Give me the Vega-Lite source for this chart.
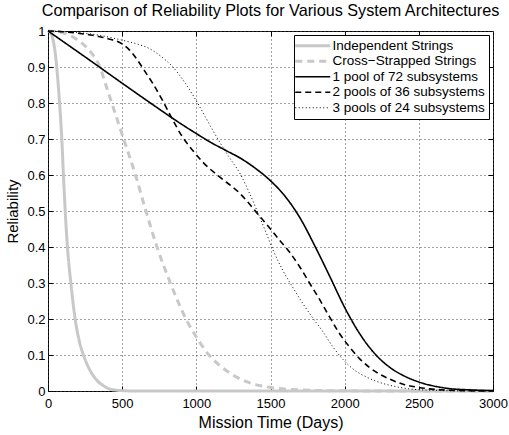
{
  "$schema": "https://vega.github.io/schema/vega-lite/v6.json",
  "width": 445,
  "height": 360,
  "autosize": {"type": "none"},
  "padding": {"left": 48, "top": 31, "right": 16, "bottom": 44},
  "background": "white",
  "title": {"text": "Comparison of Reliability Plots for Various System Architectures", "font": "Liberation Sans", "fontSize": 16.2, "fontWeight": "normal", "color": "black", "baseline": "alphabetic", "offset": 11, "dy": 18},
  "config": {
    "view": {"stroke": "black", "strokeWidth": 1},
    "axis": {"labelFont": "Liberation Sans", "titleFont": "Liberation Sans", "labelColor": "black", "titleColor": "black", "titleFontWeight": "normal", "domain": false, "tickColor": "black", "gridColor": "#444444", "gridDash": [1, 3], "gridOpacity": 1, "gridWidth": 1, "labelFlush": false},
    "legend": {"labelFont": "Liberation Sans", "labelColor": "black"}
  },
  "data": {"values": [
    {"series": "Independent Strings", "t": 0, "R": 1},
    {"series": "Independent Strings", "t": 15, "R": 0.996},
    {"series": "Independent Strings", "t": 30, "R": 0.982},
    {"series": "Independent Strings", "t": 45, "R": 0.95},
    {"series": "Independent Strings", "t": 59, "R": 0.9},
    {"series": "Independent Strings", "t": 70, "R": 0.845},
    {"series": "Independent Strings", "t": 78, "R": 0.8},
    {"series": "Independent Strings", "t": 93, "R": 0.7},
    {"series": "Independent Strings", "t": 104, "R": 0.6},
    {"series": "Independent Strings", "t": 116, "R": 0.5},
    {"series": "Independent Strings", "t": 131, "R": 0.4},
    {"series": "Independent Strings", "t": 154, "R": 0.3},
    {"series": "Independent Strings", "t": 183, "R": 0.2},
    {"series": "Independent Strings", "t": 210, "R": 0.14},
    {"series": "Independent Strings", "t": 239, "R": 0.1},
    {"series": "Independent Strings", "t": 280, "R": 0.06},
    {"series": "Independent Strings", "t": 329, "R": 0.03},
    {"series": "Independent Strings", "t": 380, "R": 0.013},
    {"series": "Independent Strings", "t": 420, "R": 0.005},
    {"series": "Independent Strings", "t": 500, "R": 0.001},
    {"series": "Independent Strings", "t": 600, "R": 0},
    {"series": "Independent Strings", "t": 3000, "R": 0},
    {"series": "Cross−Strapped Strings", "t": 0, "R": 1},
    {"series": "Cross−Strapped Strings", "t": 100, "R": 0.995},
    {"series": "Cross−Strapped Strings", "t": 200, "R": 0.975},
    {"series": "Cross−Strapped Strings", "t": 300, "R": 0.935},
    {"series": "Cross−Strapped Strings", "t": 350, "R": 0.9},
    {"series": "Cross−Strapped Strings", "t": 390, "R": 0.85},
    {"series": "Cross−Strapped Strings", "t": 430, "R": 0.8},
    {"series": "Cross−Strapped Strings", "t": 510, "R": 0.7},
    {"series": "Cross−Strapped Strings", "t": 590, "R": 0.6},
    {"series": "Cross−Strapped Strings", "t": 660, "R": 0.5},
    {"series": "Cross−Strapped Strings", "t": 735, "R": 0.4},
    {"series": "Cross−Strapped Strings", "t": 825, "R": 0.3},
    {"series": "Cross−Strapped Strings", "t": 930, "R": 0.2},
    {"series": "Cross−Strapped Strings", "t": 1000, "R": 0.15},
    {"series": "Cross−Strapped Strings", "t": 1085, "R": 0.1},
    {"series": "Cross−Strapped Strings", "t": 1160, "R": 0.07},
    {"series": "Cross−Strapped Strings", "t": 1245, "R": 0.045},
    {"series": "Cross−Strapped Strings", "t": 1380, "R": 0.02},
    {"series": "Cross−Strapped Strings", "t": 1500, "R": 0.01},
    {"series": "Cross−Strapped Strings", "t": 1700, "R": 0.003},
    {"series": "Cross−Strapped Strings", "t": 2000, "R": 0.0005},
    {"series": "Cross−Strapped Strings", "t": 2400, "R": 0},
    {"series": "Cross−Strapped Strings", "t": 3000, "R": 0},
    {"series": "1 pool of 72 subsystems", "t": 0, "R": 1},
    {"series": "1 pool of 72 subsystems", "t": 250, "R": 0.928},
    {"series": "1 pool of 72 subsystems", "t": 500, "R": 0.855},
    {"series": "1 pool of 72 subsystems", "t": 750, "R": 0.783},
    {"series": "1 pool of 72 subsystems", "t": 842, "R": 0.757},
    {"series": "1 pool of 72 subsystems", "t": 1000, "R": 0.715},
    {"series": "1 pool of 72 subsystems", "t": 1100, "R": 0.69},
    {"series": "1 pool of 72 subsystems", "t": 1200, "R": 0.668},
    {"series": "1 pool of 72 subsystems", "t": 1300, "R": 0.646},
    {"series": "1 pool of 72 subsystems", "t": 1400, "R": 0.618},
    {"series": "1 pool of 72 subsystems", "t": 1500, "R": 0.584},
    {"series": "1 pool of 72 subsystems", "t": 1600, "R": 0.54},
    {"series": "1 pool of 72 subsystems", "t": 1700, "R": 0.48},
    {"series": "1 pool of 72 subsystems", "t": 1800, "R": 0.402},
    {"series": "1 pool of 72 subsystems", "t": 1900, "R": 0.318},
    {"series": "1 pool of 72 subsystems", "t": 2000, "R": 0.232},
    {"series": "1 pool of 72 subsystems", "t": 2100, "R": 0.16},
    {"series": "1 pool of 72 subsystems", "t": 2200, "R": 0.105},
    {"series": "1 pool of 72 subsystems", "t": 2300, "R": 0.067},
    {"series": "1 pool of 72 subsystems", "t": 2400, "R": 0.042},
    {"series": "1 pool of 72 subsystems", "t": 2500, "R": 0.025},
    {"series": "1 pool of 72 subsystems", "t": 2600, "R": 0.014},
    {"series": "1 pool of 72 subsystems", "t": 2700, "R": 0.007},
    {"series": "1 pool of 72 subsystems", "t": 2850, "R": 0.003},
    {"series": "1 pool of 72 subsystems", "t": 3000, "R": 0.001},
    {"series": "2 pools of 36 subsystems", "t": 0, "R": 1},
    {"series": "2 pools of 36 subsystems", "t": 100, "R": 0.998},
    {"series": "2 pools of 36 subsystems", "t": 200, "R": 0.994},
    {"series": "2 pools of 36 subsystems", "t": 300, "R": 0.988},
    {"series": "2 pools of 36 subsystems", "t": 400, "R": 0.979},
    {"series": "2 pools of 36 subsystems", "t": 500, "R": 0.964},
    {"series": "2 pools of 36 subsystems", "t": 550, "R": 0.947},
    {"series": "2 pools of 36 subsystems", "t": 600, "R": 0.921},
    {"series": "2 pools of 36 subsystems", "t": 650, "R": 0.89},
    {"series": "2 pools of 36 subsystems", "t": 707, "R": 0.854},
    {"series": "2 pools of 36 subsystems", "t": 775, "R": 0.805},
    {"series": "2 pools of 36 subsystems", "t": 842, "R": 0.752},
    {"series": "2 pools of 36 subsystems", "t": 900, "R": 0.71},
    {"series": "2 pools of 36 subsystems", "t": 976, "R": 0.668},
    {"series": "2 pools of 36 subsystems", "t": 1050, "R": 0.633},
    {"series": "2 pools of 36 subsystems", "t": 1150, "R": 0.597},
    {"series": "2 pools of 36 subsystems", "t": 1291, "R": 0.55},
    {"series": "2 pools of 36 subsystems", "t": 1426, "R": 0.486},
    {"series": "2 pools of 36 subsystems", "t": 1500, "R": 0.45},
    {"series": "2 pools of 36 subsystems", "t": 1561, "R": 0.419},
    {"series": "2 pools of 36 subsystems", "t": 1628, "R": 0.386},
    {"series": "2 pools of 36 subsystems", "t": 1700, "R": 0.343},
    {"series": "2 pools of 36 subsystems", "t": 1763, "R": 0.3},
    {"series": "2 pools of 36 subsystems", "t": 1830, "R": 0.255},
    {"series": "2 pools of 36 subsystems", "t": 1898, "R": 0.206},
    {"series": "2 pools of 36 subsystems", "t": 1960, "R": 0.163},
    {"series": "2 pools of 36 subsystems", "t": 2033, "R": 0.122},
    {"series": "2 pools of 36 subsystems", "t": 2100, "R": 0.09},
    {"series": "2 pools of 36 subsystems", "t": 2168, "R": 0.065},
    {"series": "2 pools of 36 subsystems", "t": 2235, "R": 0.047},
    {"series": "2 pools of 36 subsystems", "t": 2303, "R": 0.033},
    {"series": "2 pools of 36 subsystems", "t": 2400, "R": 0.018},
    {"series": "2 pools of 36 subsystems", "t": 2483, "R": 0.011},
    {"series": "2 pools of 36 subsystems", "t": 2570, "R": 0.006},
    {"series": "2 pools of 36 subsystems", "t": 2660, "R": 0.003},
    {"series": "2 pools of 36 subsystems", "t": 2800, "R": 0.001},
    {"series": "2 pools of 36 subsystems", "t": 3000, "R": 0},
    {"series": "3 pools of 24 subsystems", "t": 0, "R": 1},
    {"series": "3 pools of 24 subsystems", "t": 200, "R": 0.996},
    {"series": "3 pools of 24 subsystems", "t": 350, "R": 0.988},
    {"series": "3 pools of 24 subsystems", "t": 505, "R": 0.974},
    {"series": "3 pools of 24 subsystems", "t": 600, "R": 0.964},
    {"series": "3 pools of 24 subsystems", "t": 684, "R": 0.951},
    {"series": "3 pools of 24 subsystems", "t": 760, "R": 0.93},
    {"series": "3 pools of 24 subsystems", "t": 842, "R": 0.9},
    {"series": "3 pools of 24 subsystems", "t": 920, "R": 0.858},
    {"series": "3 pools of 24 subsystems", "t": 1000, "R": 0.806},
    {"series": "3 pools of 24 subsystems", "t": 1060, "R": 0.762},
    {"series": "3 pools of 24 subsystems", "t": 1111, "R": 0.724},
    {"series": "3 pools of 24 subsystems", "t": 1170, "R": 0.683},
    {"series": "3 pools of 24 subsystems", "t": 1224, "R": 0.648},
    {"series": "3 pools of 24 subsystems", "t": 1300, "R": 0.6},
    {"series": "3 pools of 24 subsystems", "t": 1360, "R": 0.548},
    {"series": "3 pools of 24 subsystems", "t": 1420, "R": 0.49},
    {"series": "3 pools of 24 subsystems", "t": 1470, "R": 0.44},
    {"series": "3 pools of 24 subsystems", "t": 1516, "R": 0.393},
    {"series": "3 pools of 24 subsystems", "t": 1583, "R": 0.335},
    {"series": "3 pools of 24 subsystems", "t": 1650, "R": 0.288},
    {"series": "3 pools of 24 subsystems", "t": 1718, "R": 0.243},
    {"series": "3 pools of 24 subsystems", "t": 1790, "R": 0.2},
    {"series": "3 pools of 24 subsystems", "t": 1853, "R": 0.165},
    {"series": "3 pools of 24 subsystems", "t": 1920, "R": 0.123},
    {"series": "3 pools of 24 subsystems", "t": 1988, "R": 0.088},
    {"series": "3 pools of 24 subsystems", "t": 2060, "R": 0.06},
    {"series": "3 pools of 24 subsystems", "t": 2146, "R": 0.039},
    {"series": "3 pools of 24 subsystems", "t": 2220, "R": 0.026},
    {"series": "3 pools of 24 subsystems", "t": 2303, "R": 0.016},
    {"series": "3 pools of 24 subsystems", "t": 2400, "R": 0.008},
    {"series": "3 pools of 24 subsystems", "t": 2483, "R": 0.004},
    {"series": "3 pools of 24 subsystems", "t": 2600, "R": 0.002},
    {"series": "3 pools of 24 subsystems", "t": 2750, "R": 0.0005},
    {"series": "3 pools of 24 subsystems", "t": 3000, "R": 0}
  ]},
  "layer": [
    {
      "transform": [{"filter": {"field": "series", "oneOf": ["Independent Strings", "Cross−Strapped Strings"]}}],
      "mark": {"type": "line", "interpolate": "monotone", "strokeWidth": 3},
      "encoding": {
        "x": {"field": "t", "type": "quantitative", "scale": {"domain": [0, 3000], "nice": false},
          "axis": {"orient": "bottom", "title": "Mission Time (Days)", "values": [0, 500, 1000, 1500, 2000, 2500, 3000], "format": "d", "grid": true, "ticks": true, "tickSize": -5, "labelFontSize": 13, "titleFontSize": 16, "labelPadding": 11, "titlePadding": 4}},
        "y": {"field": "R", "type": "quantitative", "scale": {"domain": [0, 1], "nice": false},
          "axis": {"orient": "left", "title": "Reliability", "values": [0, 0.1, 0.2, 0.3, 0.4, 0.5, 0.6, 0.7, 0.8, 0.9, 1], "format": ".1~f", "grid": true, "ticks": true, "tickSize": -5, "labelFontSize": 13, "titleFontSize": 15, "labelPadding": 8, "titlePadding": 6}},
        "color": {"field": "series", "type": "nominal",
          "scale": {"domain": ["Independent Strings", "Cross−Strapped Strings", "1 pool of 72 subsystems", "2 pools of 36 subsystems", "3 pools of 24 subsystems"], "range": ["#c8c8c8", "#c8c8c8", "#000000", "#000000", "#000000"]},
          "legend": {"title": null, "orient": "none", "legendX": 246, "legendY": 4, "fillColor": "white", "strokeColor": "black", "padding": 4, "rowPadding": 0.5, "labelFontSize": 13.5, "symbolType": "M-3.5,0H3.5", "symbolSize": 100, "symbolOffset": 8, "labelOffset": 13,
            "encode": {"symbols": {"update": {"strokeWidth": {"signal": "datum.value == 'Independent Strings' || datum.value == 'Cross−Strapped Strings' ? 3 : (datum.value == '3 pools of 24 subsystems' ? 1 : 1.6)"}}}}}},
        "strokeDash": {"field": "series", "type": "nominal",
          "scale": {"domain": ["Independent Strings", "Cross−Strapped Strings", "1 pool of 72 subsystems", "2 pools of 36 subsystems", "3 pools of 24 subsystems"], "range": [[1, 0], [7, 5], [1, 0], [6, 4], [1, 2.5]]}}
      }
    },
    {
      "transform": [{"filter": {"field": "series", "oneOf": ["1 pool of 72 subsystems", "2 pools of 36 subsystems"]}}],
      "mark": {"type": "line", "interpolate": "monotone", "strokeWidth": 1.6},
      "encoding": {
        "x": {"field": "t", "type": "quantitative", "axis": null},
        "y": {"field": "R", "type": "quantitative", "axis": null},
        "color": {"field": "series", "type": "nominal"},
        "strokeDash": {"field": "series", "type": "nominal"}
      }
    },
    {
      "transform": [{"filter": {"field": "series", "equal": "3 pools of 24 subsystems"}}],
      "mark": {"type": "line", "interpolate": "monotone", "strokeWidth": 1},
      "encoding": {
        "x": {"field": "t", "type": "quantitative", "axis": null},
        "y": {"field": "R", "type": "quantitative", "axis": null},
        "color": {"field": "series", "type": "nominal"},
        "strokeDash": {"field": "series", "type": "nominal"}
      }
    },
    {
      "mark": {"type": "point", "opacity": 0},
      "encoding": {
        "x": {"field": "t", "type": "quantitative", "axis": {"orient": "top", "title": null, "labels": false, "grid": false, "ticks": true, "tickSize": -5, "values": [500, 1000, 1500, 2000, 2500]}},
        "y": {"field": "R", "type": "quantitative", "axis": {"orient": "right", "title": null, "labels": false, "grid": false, "ticks": true, "tickSize": -5, "values": [0.1, 0.2, 0.3, 0.4, 0.5, 0.6, 0.7, 0.8, 0.9]}}
      }
    }
  ],
  "resolve": {"axis": {"x": "independent", "y": "independent"}}
}
